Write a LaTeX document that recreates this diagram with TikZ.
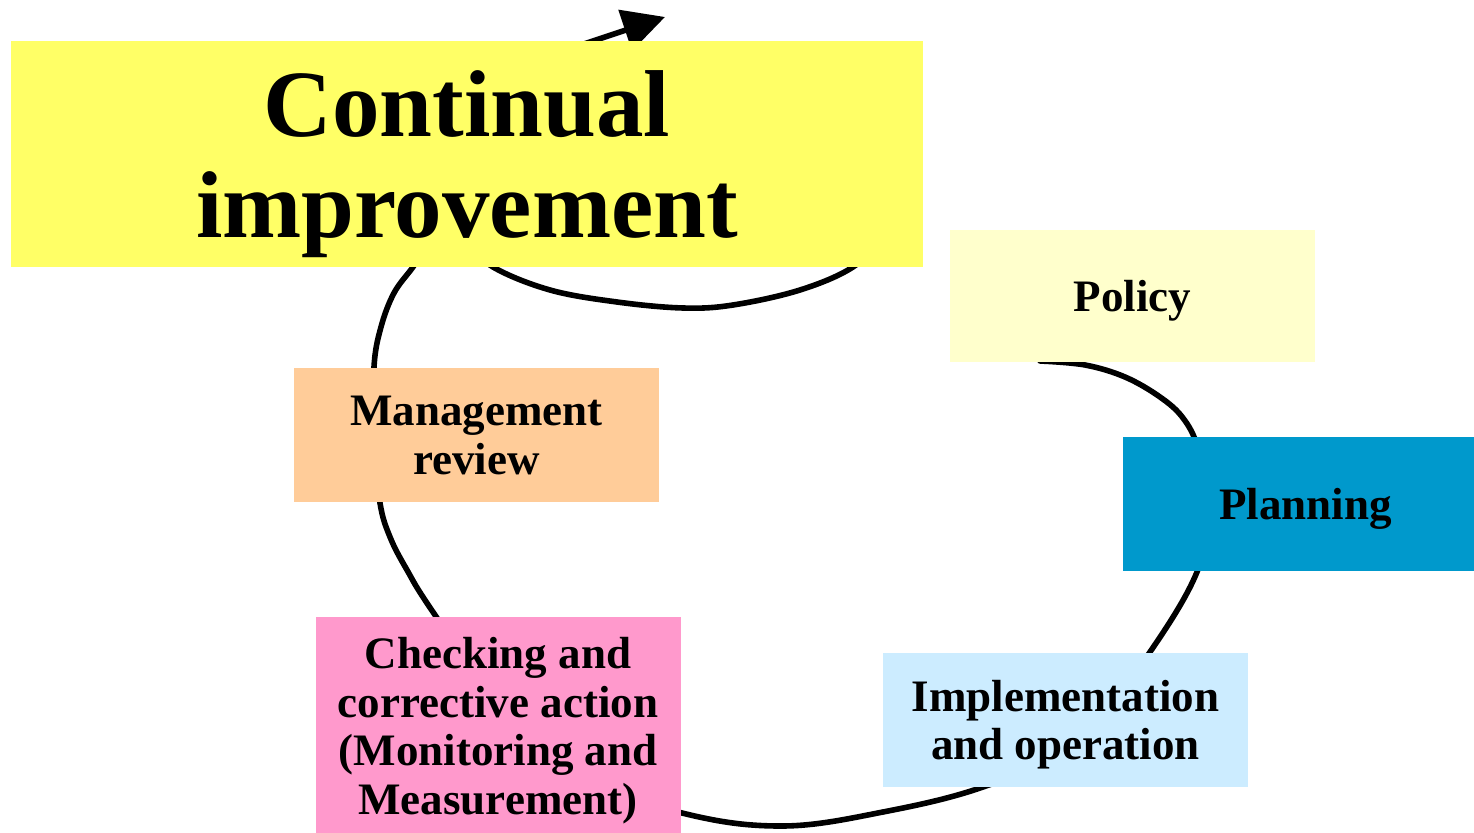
\documentclass[tikz,border=0pt]{standalone}
\usepackage{fontspec}
\setmainfont{Liberation Serif}
\usetikzlibrary{arrows.meta}
\definecolor{cimprove}{HTML}{FFFF66}
\definecolor{cpolicy}{HTML}{FFFFCC}
\definecolor{cplanning}{HTML}{0099CC}
\definecolor{cimpl}{HTML}{CCECFF}
\definecolor{creview}{HTML}{FFCC99}
\definecolor{ccheck}{HTML}{FF99CC}
\begin{document}
\begin{tikzpicture}[x=0.5pt,y=-0.5pt,
  stage/.style={rectangle, draw=none, minimum width=182.5pt, minimum height=67pt,
    inner sep=0pt, align=center, text depth=0pt,
    font=\fontsize{22.5}{24.3}\selectfont\bfseries},
  cycleline/.style={line width=2.8pt, line cap=round, line join=round}]
\useasboundingbox (0,0) rectangle (1474,833);
\clip (0,0) rectangle (1474,833);

% the improvement cycle, drawn first so the boxes sit on top of it
\draw[cycleline] plot[smooth, tension=0.6] coordinates {
  (1040,361) (1085,365) (1125,377) (1160,397) (1183,418) (1198,448)
  (1210,505) (1197,572) (1150,652) (1080,743) (983,787) (883,812)
  (783,826) (682,813) (540,766) (435,615) (407,570) (390,537)
  (380,503) (374,440) (374,367) (381,327) (394,293) (413,267) (428,245)};
\draw[cycleline] plot[smooth, tension=0.6] coordinates {
  (465,240) (493,267) (550,290) (617,302) (683,308) (733,305)
  (800,290) (853,267) (885,235)};
\coordinate (risetail) at (530,62);
\coordinate (risetip) at (665,17);
\draw[cycleline, -{Triangle[length=21pt,width=21pt]}] (risetail) -- (risetip);

% stages of the cycle
\node[stage, fill=cimprove, minimum width=456pt, minimum height=113pt,
  font=\fontsize{47.5}{50.5}\selectfont\bfseries] (improve) at (467,154)
  {Continual\\improvement};
\node[stage, fill=cpolicy, minimum height=66pt] (policy) at (1132.5,296) {Policy};
\node[stage, fill=cplanning] (planning) at (1305.5,504) {Planning};
\node[stage, fill=cimpl] (implement) at (1065.5,720) {Implementation\\and operation};
\node[stage, fill=creview] (review) at (476.5,435) {Management\\review};
\node[stage, fill=ccheck, minimum height=109pt] (check) at (498,726)
  {Checking and\\corrective action\\(Monitoring and\\Measurement)};
\end{tikzpicture}
\end{document}
